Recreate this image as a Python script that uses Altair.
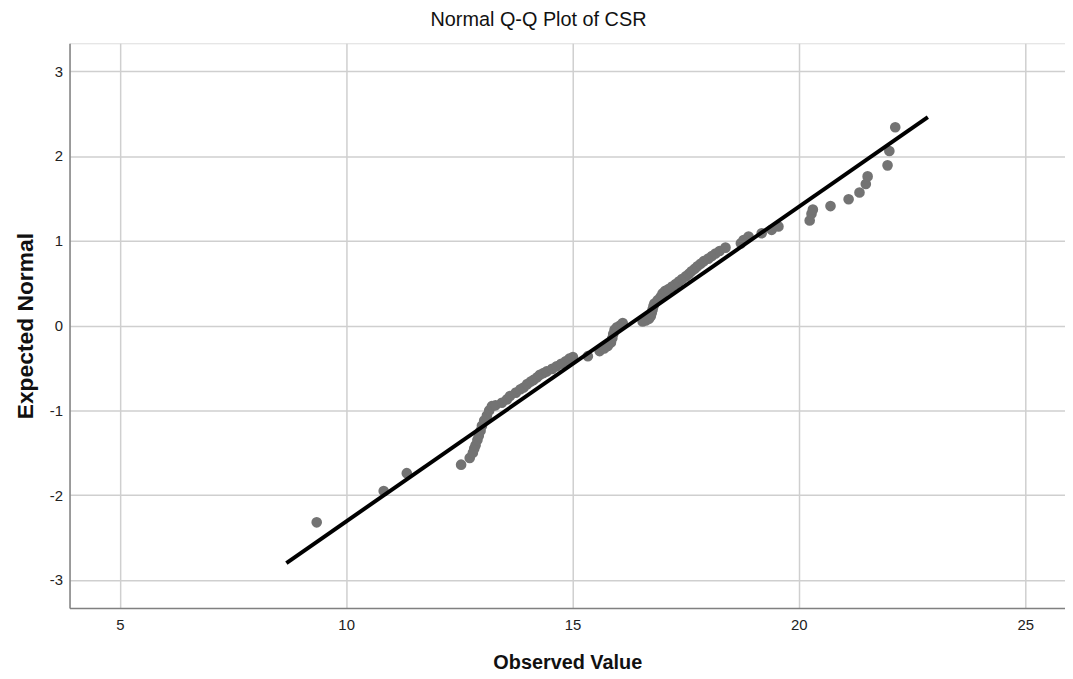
import altair as alt
import pandas as pd

obs = [9.35, 10.83, 11.34, 12.54, 12.73, 12.80, 12.83, 12.86, 12.90, 12.93,
       12.97, 13.00, 13.05, 13.11, 13.16, 13.22, 13.30, 13.44, 13.55, 13.62,
       13.75, 13.85, 13.92, 14.00, 14.08, 14.14, 14.22, 14.28, 14.36, 14.43,
       14.55, 14.65, 14.75, 14.85, 14.93, 15.01, 15.34, 15.60, 15.70, 15.78,
       15.85, 15.88, 15.90, 15.93, 15.98, 16.05, 16.11, 16.55, 16.62, 16.69,
       16.73, 16.75, 16.77, 16.79, 16.81, 16.88, 16.95, 16.99, 17.05, 17.12,
       17.20, 17.28, 17.35, 17.42, 17.50, 17.57, 17.63, 17.70, 17.76, 17.83,
       17.90, 18.00, 18.08, 18.16, 18.25, 18.38, 18.72, 18.78, 18.89, 19.18,
       19.40, 19.55, 20.24, 20.28, 20.31, 20.70, 21.10, 21.34, 21.48, 21.52,
       21.96, 22.00, 22.13]
expected = [-2.32, -1.95, -1.74, -1.64, -1.56, -1.50, -1.45, -1.41, -1.35, -1.30,
            -1.24, -1.18, -1.12, -1.06, -1.00, -0.95, -0.94, -0.91, -0.87, -0.83,
            -0.79, -0.75, -0.73, -0.69, -0.66, -0.64, -0.61, -0.58, -0.56, -0.54,
            -0.51, -0.48, -0.45, -0.42, -0.39, -0.37, -0.36, -0.30, -0.27, -0.24,
            -0.20, -0.15, -0.10, -0.05, -0.02, 0.00, 0.03, 0.05, 0.06, 0.08,
            0.11, 0.15, 0.19, 0.23, 0.26, 0.30, 0.34, 0.38, 0.41, 0.43,
            0.46, 0.49, 0.52, 0.55, 0.58, 0.61, 0.64, 0.67, 0.70, 0.73,
            0.76, 0.79, 0.82, 0.85, 0.88, 0.92, 0.97, 1.01, 1.05, 1.09,
            1.13, 1.17, 1.24, 1.32, 1.37, 1.41, 1.49, 1.57, 1.67, 1.76,
            1.89, 2.06, 2.34]

# Reference line endpoints
line_x = [8.68, 22.85]
line_y = [-2.80, 2.46]

x_ticks = [5, 10, 15, 20, 25]
y_ticks = [-3, -2, -1, 0, 1, 2, 3]

pts = pd.DataFrame({"obs": obs, "exp": expected})
ln = pd.DataFrame({"obs": line_x, "exp": line_y})

W, H = 1003, 569
FONT = "Liberation Sans"

xscale = alt.Scale(domain=[3.89, 25.88], nice=False, zero=False)
yscale = alt.Scale(domain=[-3.33, 3.33], nice=False, zero=False)

xaxis = alt.Axis(values=x_ticks, title="Observed Value", ticks=False,
                 grid=True, gridColor="#cfcfcf", gridWidth=1.5,
                 domainColor="#808080", domainWidth=1.5,
                 labelFont=FONT, labelFontSize=15, labelColor="#222222",
                 labelPadding=10, labelExpr="'' + datum.value",
                 titleFont=FONT, titleFontSize=20, titleFontWeight="bold",
                 titleColor="#111111", titleY=55, titleBaseline="middle")
yaxis = alt.Axis(values=y_ticks, title="Expected Normal", ticks=False,
                 grid=True, gridColor="#cfcfcf", gridWidth=1.5,
                 domainColor="#808080", domainWidth=1.5,
                 labelFont=FONT, labelFontSize=15, labelColor="#222222",
                 labelPadding=7, labelExpr="'' + datum.value",
                 titleFont=FONT, titleFontSize=23, titleFontWeight="bold",
                 titleColor="#111111", titleX=-44, titleY=H / 2,
                 titleAngle=-90, titleBaseline="middle", titleAlign="center")

points = alt.Chart(pts).mark_circle(size=115, color="#737373", opacity=1).encode(
    x=alt.X("obs:Q", scale=xscale, axis=xaxis),
    y=alt.Y("exp:Q", scale=yscale, axis=yaxis),
)
line = alt.Chart(ln).mark_line(color="#000000", strokeWidth=4, clip=True).encode(
    x=alt.X("obs:Q", scale=xscale),
    y=alt.Y("exp:Q", scale=yscale),
)

chart = alt.layer(points, line).properties(
    width=W, height=H,
    autosize=alt.AutoSizeParams(type="none"),
    padding={"left": 62, "top": 33, "right": 0, "bottom": 66},
    title=alt.TitleParams("Normal Q-Q Plot of CSR", font=FONT, fontSize=20,
                          fontWeight="normal", color="#111111",
                          anchor="middle", dx=-29, offset=13),
).configure_view(stroke=None).configure(background="white")

chart.save("out.html", embed_options={"renderer": "svg", "actions": False})
